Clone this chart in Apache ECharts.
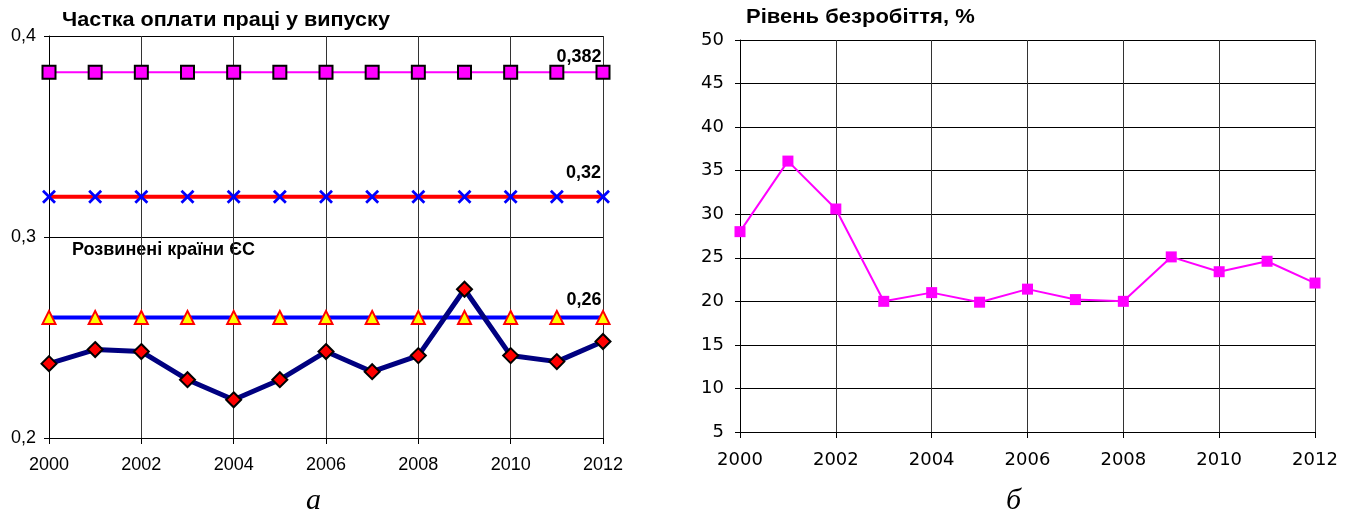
<!DOCTYPE html>
<html>
<head>
<meta charset="utf-8">
<script src="https://cdn.jsdelivr.net/npm/echarts@6/dist/echarts.min.js"></script>
<style>
  html, body { margin: 0; padding: 0; background: #fff; }
  #chart { width: 1356px; height: 529px; }
</style>
</head>
<body>
<div id="chart"></div>
<script>
const years = [2000, 2001, 2002, 2003, 2004, 2005, 2006, 2007, 2008, 2009, 2010, 2011, 2012]

// left panel: labour share in output
const shareTop = [0.382, 0.382, 0.382, 0.382, 0.382, 0.382, 0.382, 0.382, 0.382, 0.382, 0.382, 0.382, 0.382]
const shareMid = [0.32, 0.32, 0.32, 0.32, 0.32, 0.32, 0.32, 0.32, 0.32, 0.32, 0.32, 0.32, 0.32]
const shareEU = [0.26, 0.26, 0.26, 0.26, 0.26, 0.26, 0.26, 0.26, 0.26, 0.26, 0.26, 0.26, 0.26]
const shareActual = [0.237, 0.244, 0.243, 0.229, 0.219, 0.229, 0.243, 0.233, 0.241, 0.274, 0.241, 0.238, 0.248]
const shareTicks = [0.2, 0.3, 0.4]

// right panel: unemployment rate, %
const unemployment = [28.0, 36.1, 30.6, 20.0, 21.0, 19.9, 21.4, 20.2, 20.0, 25.1, 23.4, 24.6, 22.1]

const sans = '"Liberation Sans", Arial, sans-serif'
const wide = '"DejaVu Sans", sans-serif'
const crossPath = 'path://M0,1.4L1.4,0L5,3.6L8.6,0L10,1.4L6.4,5L10,8.6L8.6,10L5,6.4L1.4,10L0,8.6L3.6,5Z'

const pairs = (vals) => years.map((y, i) => [y, vals[i]])
const lastLabel = (text, pos) => ({
  show: true,
  position: pos,
  align: 'right',
  verticalAlign: 'bottom',
  color: '#000',
  fontWeight: 'bold',
  fontSize: 18,
  fontFamily: sans,
  formatter: (p) => (p.dataIndex === years.length - 1 ? text : ''),
})

const xAxisBase = (gridIndex, labelMargin, font, size) => ({
  type: 'value',
  gridIndex,
  min: 2000,
  max: 2012,
  interval: 2,
  axisLine: { show: true, onZero: false, lineStyle: { color: '#000', width: 1 } },
  axisTick: { show: true, length: 6, lineStyle: { color: '#000' } },
  axisLabel: { color: '#000', fontSize: size, fontFamily: font, margin: labelMargin, formatter: (v) => String(v) },
  splitLine: { show: true, lineStyle: { color: '#333', width: 1 } },
})

const chart = echarts.init(document.getElementById('chart'))
chart.setOption({
  animation: false,
  backgroundColor: '#fff',
  graphic: [
    {
      type: 'text', x: 62, y: 20, scaleX: 1.08,
      style: { text: 'Частка оплати праці у випуску', font: 'bold 20px "Liberation Sans", Arial, sans-serif', fill: '#000', verticalAlign: 'middle' },
    },
    {
      type: 'text', x: 746, y: 17, scaleX: 1.1,
      style: { text: 'Рівень безробіття, %', font: 'bold 20px "Liberation Sans", Arial, sans-serif', fill: '#000', verticalAlign: 'middle' },
    },
    {
      type: 'text', x: 72, y: 250,
      style: { text: 'Розвинені країни ЄС', font: 'bold 18px "Liberation Sans", Arial, sans-serif', fill: '#000', verticalAlign: 'middle' },
    },
    {
      type: 'text', left: 306, top: 486,
      style: { text: 'а', font: 'italic 30px "Liberation Serif", "DejaVu Serif", serif', fill: '#000' },
    },
    {
      type: 'text', left: 1006, top: 486,
      style: { text: 'б', font: 'italic 30px "Liberation Serif", "DejaVu Serif", serif', fill: '#000' },
    },
  ],
  grid: [
    { left: 49, right: 753, top: 36, bottom: 91 },
    { left: 740, right: 41, top: 40, bottom: 97 },
  ],
  xAxis: [xAxisBase(0, 18, sans, 18), xAxisBase(1, 19, wide, 18)],
  yAxis: [
    {
      type: 'value',
      gridIndex: 0,
      min: shareTicks[0],
      max: shareTicks[shareTicks.length - 1],
      interval: 0.1,
      axisLine: { show: true, lineStyle: { color: '#000' } },
      axisTick: { show: true, length: 5, lineStyle: { color: '#000' } },
      axisLabel: { color: '#000', fontSize: 18, fontFamily: sans, margin: 13, formatter: (v) => v.toFixed(1).replace('.', ',') },
      splitLine: { show: true, lineStyle: { color: '#000', width: 1 } },
    },
    {
      type: 'value',
      gridIndex: 1,
      min: 5,
      max: 50,
      interval: 5,
      axisLine: { show: true, lineStyle: { color: '#000' } },
      axisTick: { show: true, length: 5, lineStyle: { color: '#000' } },
      axisLabel: { color: '#000', fontSize: 18, fontFamily: wide, margin: 16 },
      splitLine: { show: true, lineStyle: { color: '#000', width: 1 } },
    },
  ],
  series: [
    {
      name: 'top',
      type: 'line',
      xAxisIndex: 0, yAxisIndex: 0,
      data: pairs(shareTop),
      lineStyle: { color: '#ff00ff', width: 2 },
      symbol: 'rect', symbolSize: 13,
      itemStyle: { color: '#ff00ff', borderColor: '#000', borderWidth: 2 },
      label: lastLabel('0,382', [6, 1]),
      z: 3,
    },
    {
      name: 'mid',
      type: 'line',
      xAxisIndex: 0, yAxisIndex: 0,
      data: pairs(shareMid),
      lineStyle: { color: '#ff0000', width: 4 },
      symbol: crossPath, symbolSize: 14,
      itemStyle: { color: '#0000ff', borderWidth: 0 },
      label: lastLabel('0,32', [5, -8]),
      z: 3,
    },
    {
      name: 'eu',
      type: 'line',
      xAxisIndex: 0, yAxisIndex: 0,
      data: pairs(shareEU),
      lineStyle: { color: '#0000ff', width: 4 },
      symbol: 'triangle', symbolSize: 13,
      itemStyle: { color: '#ffff00', borderColor: '#ff0000', borderWidth: 2 },
      label: lastLabel('0,26', [6, -1]),
      z: 3,
    },
    {
      name: 'actual',
      type: 'line',
      xAxisIndex: 0, yAxisIndex: 0,
      data: pairs(shareActual),
      lineStyle: { color: '#000080', width: 5 },
      symbol: 'diamond', symbolSize: 15,
      itemStyle: { color: '#ff0000', borderColor: '#000', borderWidth: 2 },
      z: 4,
    },
    {
      name: 'unemployment',
      type: 'line',
      xAxisIndex: 1, yAxisIndex: 1,
      data: pairs(unemployment),
      lineStyle: { color: '#ff00ff', width: 2 },
      symbol: 'rect', symbolSize: 11,
      itemStyle: { color: '#ff00ff', borderWidth: 0 },
      z: 3,
    },
  ],
})
</script>
</body>
</html>
